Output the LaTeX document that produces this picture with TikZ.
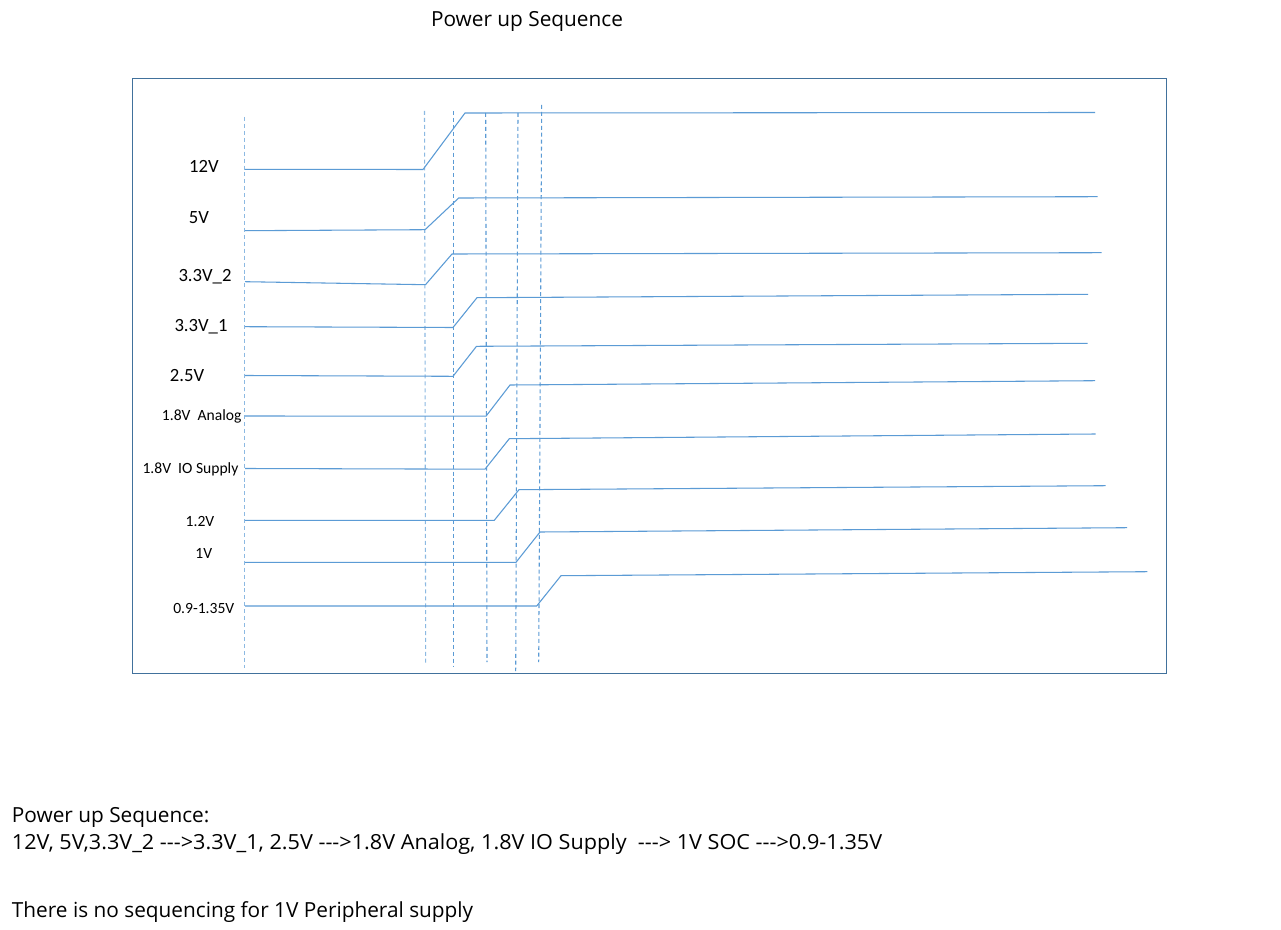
\documentclass[tikz,border=0pt]{standalone}
\usepackage{fontspec}
\setmainfont{Carlito}
\newfontfamily\uifont{Open Sans}
\definecolor{sig}{RGB}{91,155,213}
\definecolor{frm}{RGB}{65,113,156}
\begin{document}
\begin{tikzpicture}[x=0.75pt,y=-0.75pt,
  wave/.style={draw=sig,line width=0.8pt,line join=miter},
  vmarker/.style={draw=sig,line width=0.8pt,dash pattern=on 3pt off 2.2pt},
  vmarkerlight/.style={vmarker,draw=sig!70},
  big/.style={font=\fontsize{14}{16}\selectfont,inner sep=0pt},
  small/.style={font=\fontsize{11.7}{14}\selectfont,inner sep=0pt},
  ui/.style={font=\uifont\fontsize{15.6}{18}\selectfont,inner sep=0pt,anchor=base west}]
\useasboundingbox[fill=white] (0,0) rectangle (1281,930);
% frame
\node[draw=frm,line width=0.8pt,minimum width=1034*0.75pt,minimum height=595*0.75pt,inner sep=0pt,anchor=north west] (frame) at (131.5,78) {};
% title
\node[font=\uifont\fontsize{15.6}{18}\selectfont,inner sep=0pt,anchor=base] (title) at (527,26.7) {Power up Sequence};
% vertical markers
\coordinate (v0t) at (244.3,117); \coordinate (v0b) at (244.3,668);
\coordinate (v1t) at (424.5,111); \coordinate (v1b) at (425.7,664);
\coordinate (v2t) at (453.3,111); \coordinate (v2b) at (453.3,667);
\coordinate (v3t) at (485.7,113); \coordinate (v3b) at (487,662);
\coordinate (v4t) at (518,113); \coordinate (v4b) at (515.7,671);
\coordinate (v5t) at (541.7,105); \coordinate (v5b) at (538.7,662);
\draw[vmarkerlight] (v0t) -- (v0b);
\draw[vmarkerlight] (v1t) -- (v1b);
\draw[vmarker] (v2t) -- (v2b);
\draw[vmarker] (v3t) -- (v3b);
\draw[vmarker] (v4t) -- (v4b);
\draw[vmarker] (v5t) -- (v5b);
% labels
\node[big] (l12) at (204,166.5) {12V};
\node[big] (l5) at (199,217.5) {5V};
\node[big] (l33b) at (205,277) {3.3V\_2};
\node[big] (l33a) at (201,327) {3.3V\_1};
\node[big] (l25) at (187,375.5) {2.5V};
\node[small] (l18a) at (201.7,416.5) {1.8V\ \ Analog};
\node[small] (l18io) at (190.5,469.5) {1.8V\ \ IO Supply};
\node[small] (l12v) at (200,521) {1.2V};
\node[small] (l1) at (203.8,553.3) {1V};
\node[small] (l09) at (203.8,608.3) {0.9-1.35V};
% waveforms
\draw[wave] (245,169.3) coordinate (s1a) -- (423,169.5) coordinate (s1b) -- (465,113) coordinate (s1c) -- (1095,112.5) coordinate (s1d);
\draw[wave] (245,230.7) coordinate (s2a) -- (425,229.7) coordinate (s2b) -- (458.7,198) coordinate (s2c) -- (1097.5,196.7) coordinate (s2d);
\draw[wave] (245,281.7) coordinate (s3a) -- (425.5,284.7) coordinate (s3b) -- (452,254) coordinate (s3c) -- (1101.5,252.7) coordinate (s3d);
\draw[wave] (245,326.7) coordinate (s4a) -- (453,327.5) coordinate (s4b) -- (477,297.7) coordinate (s4c) -- (1088,294.3) coordinate (s4d);
\draw[wave] (245,375.5) coordinate (s5a) -- (453,376.3) coordinate (s5b) -- (476.5,346.3) coordinate (s5c) -- (1087.5,343.3) coordinate (s5d);
\draw[wave] (245,416) coordinate (s6a) -- (486,416.2) coordinate (s6b) -- (510,385) coordinate (s6c) -- (1095,380.7) coordinate (s6d);
\draw[wave] (245,468.5) coordinate (s7a) -- (485,469.2) coordinate (s7b) -- (509.3,438.7) coordinate (s7c) -- (1095.7,434) coordinate (s7d);
\draw[wave] (245,520.3) coordinate (s8a) -- (494.3,520.3) coordinate (s8b) -- (519,489.7) coordinate (s8c) -- (1105.7,485.7) coordinate (s8d);
\draw[wave] (245,562.3) coordinate (s9a) -- (516,562.3) coordinate (s9b) -- (540,532) coordinate (s9c) -- (1127,527.7) coordinate (s9d);
\draw[wave] (245,606) coordinate (s10a) -- (536.7,606) coordinate (s10b) -- (561,575.7) coordinate (s10c) -- (1147.3,571.7) coordinate (s10d);
% bottom notes
\node[ui] (n1) at (11.7,822.3) {Power up Sequence:};
\node[ui,transform shape,xscale=1.04] (n2) at (11.7,849.3) {12V, 5V,3.3V\_2 ---{}>3.3V\_1, 2.5V ---{}>1.8V Analog, 1.8V IO Supply\ \ ---{}> 1V SOC ---{}>0.9-1.35V};
\node[ui] (n3) at (11.7,917.3) {There is no sequencing for 1V Peripheral supply};
\end{tikzpicture}
\end{document}
